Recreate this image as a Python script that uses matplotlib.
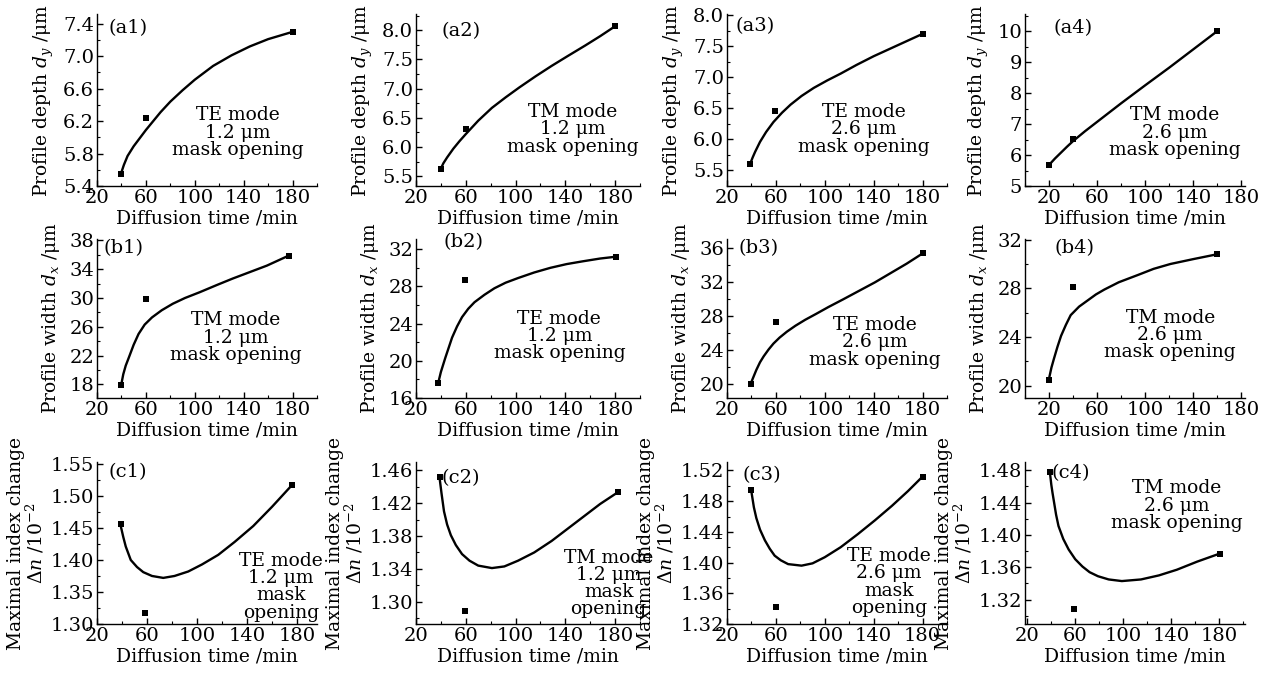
import matplotlib
matplotlib.use("Agg")
import matplotlib.pyplot as plt
from matplotlib.ticker import AutoMinorLocator, FormatStrFormatter, FixedLocator

plt.rcParams['font.family'] = ['DejaVu Serif']
plt.rcParams['mathtext.fontset'] = 'dejavuserif'

# ---------------- data ----------------
# measured points
t_a1 = [40, 60, 180];  v_a1 = [5.55, 6.24, 7.30]
t_a2 = [40, 60, 180];  v_a2 = [5.63, 6.30, 8.07]
t_a3 = [39, 59, 180];  v_a3 = [5.61, 6.45, 7.70]
t_a4 = [20, 40, 160];  v_a4 = [5.68, 6.51, 10.0]
t_b1 = [40, 60, 177];  v_b1 = [17.9, 29.9, 35.9]
t_b2 = [38, 59, 181];  v_b2 = [17.6, 28.7, 31.2]
t_b3 = [40, 60, 180];  v_b3 = [20.0, 27.2, 35.3]
t_b4 = [20, 40, 160];  v_b4 = [20.5, 28.15, 30.8]
t_c1 = [39, 58, 176];  v_c1 = [1.456, 1.317, 1.517]
t_c2 = [39, 59, 182];  v_c2 = [1.452, 1.289, 1.433]
t_c3 = [40, 60, 180];  v_c3 = [1.494, 1.342, 1.512]
t_c4 = [39, 59, 181];  v_c4 = [1.4775, 1.309, 1.377]

# fitted curves
ct_a1 = [40, 42, 45, 50, 55, 60, 66, 72, 80, 90, 100, 115, 130, 145, 160, 180]
cv_a1 = [5.57, 5.66, 5.77, 5.89, 5.99, 6.09, 6.20, 6.31, 6.44, 6.58, 6.71, 6.88, 7.01, 7.12, 7.21, 7.30]
ct_a2 = [40, 42, 45, 50, 55, 60, 70, 81, 92, 103, 116, 129, 142, 156, 168, 180]
cv_a2 = [5.63, 5.72, 5.82, 5.97, 6.10, 6.22, 6.45, 6.67, 6.85, 7.02, 7.21, 7.39, 7.56, 7.74, 7.90, 8.07]
ct_a3 = [39, 41, 43, 47, 52, 58, 65, 72, 81, 91, 102, 113, 126, 140, 160, 180]
cv_a3 = [5.61, 5.71, 5.80, 5.96, 6.12, 6.28, 6.43, 6.56, 6.70, 6.83, 6.95, 7.06, 7.20, 7.34, 7.52, 7.70]
ct_a4 = [20, 25, 30, 35, 40, 50, 60, 80, 100, 120, 140, 160]
cv_a4 = [5.68, 5.89, 6.08, 6.27, 6.45, 6.77, 7.07, 7.67, 8.25, 8.82, 9.41, 10.0]
ct_b1 = [40, 41.5, 43.5, 46, 50, 54, 59, 65, 73, 82, 92, 104, 118, 131, 145, 159, 177]
cv_b1 = [18.1, 19.4, 20.6, 21.7, 23.5, 25.0, 26.3, 27.3, 28.3, 29.2, 30.0, 30.8, 31.8, 32.7, 33.6, 34.5, 35.9]
ct_b2 = [38, 40, 43.5, 49, 53, 57, 62, 67, 75, 83, 92, 102, 115, 128, 141, 154, 168, 181]
cv_b2 = [17.7, 18.8, 20.3, 22.5, 23.7, 24.7, 25.6, 26.3, 27.1, 27.8, 28.4, 28.9, 29.5, 30.0, 30.4, 30.7, 31.0, 31.2]
ct_b3 = [40, 42, 44, 47, 50, 54, 58, 63, 69, 76, 84, 93, 103, 115, 128, 141, 154, 167, 180]
cv_b3 = [20.2, 20.9, 21.6, 22.5, 23.2, 24.0, 24.7, 25.4, 26.1, 26.8, 27.5, 28.2, 29.0, 29.9, 30.9, 31.9, 33.0, 34.1, 35.3]
ct_b4 = [20, 22, 24, 27, 30, 34, 38, 45, 52, 59, 66, 78, 94, 107, 121, 140, 160]
cv_b4 = [20.6, 21.5, 22.2, 23.2, 24.1, 25.0, 25.8, 26.5, 27.0, 27.5, 27.9, 28.5, 29.1, 29.6, 30.0, 30.4, 30.8]
ct_c1 = [39, 41, 43, 47, 52, 57, 64, 73, 82, 93, 104, 117, 130, 145, 160, 176]
cv_c1 = [1.453, 1.436, 1.421, 1.400, 1.389, 1.381, 1.375, 1.372, 1.375, 1.382, 1.393, 1.408, 1.428, 1.453, 1.483, 1.517]
ct_c2 = [39, 40.5, 42.5, 45, 48, 52, 57, 63, 70, 81, 91, 102, 115, 129, 142, 155, 168, 182]
cv_c2 = [1.450, 1.432, 1.410, 1.394, 1.381, 1.369, 1.358, 1.350, 1.344, 1.341, 1.343, 1.350, 1.360, 1.374, 1.389, 1.404, 1.419, 1.433]
ct_c3 = [40, 42, 44, 47, 51, 55, 59, 64, 70, 81, 90, 100, 113, 127, 141, 155, 168, 180]
cv_c3 = [1.492, 1.472, 1.458, 1.443, 1.429, 1.418, 1.409, 1.403, 1.398, 1.396, 1.399, 1.407, 1.420, 1.437, 1.455, 1.474, 1.493, 1.512]
ct_c4 = [39, 40, 41, 42, 44, 46, 50, 54.5, 60, 66, 72, 79, 88, 99, 115, 130, 145, 162, 181]
cv_c4 = [1.475, 1.462, 1.452, 1.443, 1.425, 1.411, 1.395, 1.382, 1.370, 1.361, 1.354, 1.349, 1.345, 1.343, 1.345, 1.350, 1.357, 1.367, 1.377]

labels_panel = ['(a1)', '(a2)', '(a3)', '(a4)', '(b1)', '(b2)', '(b3)', '(b4)',
                '(c1)', '(c2)', '(c3)', '(c4)']
notes = ['TE mode\n1.2 μm\nmask opening', 'TM mode\n1.2 μm\nmask opening',
         'TE mode\n2.6 μm\nmask opening', 'TM mode\n2.6 μm\nmask opening',
         'TM mode\n1.2 μm\nmask opening', 'TE mode\n1.2 μm\nmask opening',
         'TE mode\n2.6 μm\nmask opening', 'TM mode\n2.6 μm\nmask opening',
         'TE mode\n1.2 μm\nmask\nopening', 'TM mode\n1.2 μm\nmask\nopening',
         'TE mode\n2.6 μm\nmask\nopening', 'TM mode\n2.6 μm\nmask opening']
x_ticks = [20, 60, 100, 140, 180]
y_label_a = r'Profile depth $d_y$ /μm'
y_label_b = r'Profile width $d_x$ /μm'
y_label_c = 'Maximal index change\n' + r'$\mathit{\Delta n}$ /10$^{-2}$'
x_label = 'Diffusion time /min'

pts_t = [t_a1, t_a2, t_a3, t_a4, t_b1, t_b2, t_b3, t_b4, t_c1, t_c2, t_c3, t_c4]
pts_v = [v_a1, v_a2, v_a3, v_a4, v_b1, v_b2, v_b3, v_b4, v_c1, v_c2, v_c3, v_c4]
cur_t = [ct_a1, ct_a2, ct_a3, ct_a4, ct_b1, ct_b2, ct_b3, ct_b4, ct_c1, ct_c2, ct_c3, ct_c4]
cur_v = [cv_a1, cv_a2, cv_a3, cv_a4, cv_b1, cv_b2, cv_b3, cv_b4, cv_c1, cv_c2, cv_c3, cv_c4]

# ---------------- layout / styling ----------------
W, H = 1274, 675
fig = plt.figure(figsize=(W / 100, H / 100), dpi=100)

col_left = [97, 416, 727, 1025]
col_w = [220, 224, 220, 220]
row_top = [14, 239, 462]
row_bot = [186, 398, 624]

xlims = [(20, 200), (20, 200), (20, 200), (0, 183),
         (20, 200), (20, 200), (20, 200), (0, 183),
         (20, 196), (20, 200), (20, 200), (18, 202)]
ylims = [(5.4, 7.52), (5.33, 8.28), (5.25, 8.02), (5.0, 10.55),
         (16.1, 38.2), (16.0, 33.1), (18.3, 37.0), (19.0, 32.05),
         (1.30, 1.553), (1.273, 1.47), (1.32, 1.531), (1.29, 1.49)]
yticks = [[5.4, 5.8, 6.2, 6.6, 7.0, 7.4], [5.5, 6.0, 6.5, 7.0, 7.5, 8.0],
          [5.5, 6.0, 6.5, 7.0, 7.5, 8.0], [5, 6, 7, 8, 9, 10],
          [18, 22, 26, 30, 34, 38], [16, 20, 24, 28, 32], [20, 24, 28, 32, 36], [20, 24, 28, 32],
          [1.30, 1.35, 1.40, 1.45, 1.50, 1.55], [1.30, 1.34, 1.38, 1.42, 1.46],
          [1.32, 1.36, 1.40, 1.44, 1.48, 1.52], [1.32, 1.36, 1.40, 1.44, 1.48]]
yfmt = ['%.1f'] * 3 + ['%d'] + ['%d'] * 4 + ['%.2f'] * 4
tag_pos = [(0.14, 0.92), (0.20, 0.90), (0.13, 0.93), (0.22, 0.92),
           (0.12, 0.94), (0.21, 0.98), (0.145, 0.94), (0.225, 0.945),
           (0.14, 0.94), (0.20, 0.90), (0.16, 0.92), (0.21, 0.93)]
note_pos = [(0.64, 0.31), (0.70, 0.33), (0.62, 0.33), (0.68, 0.31),
            (0.63, 0.38), (0.64, 0.39), (0.67, 0.35), (0.66, 0.395),
            (0.835, 0.23), (0.86, 0.25), (0.735, 0.26), (0.69, 0.73)]

TFS = 14     # tick labels
LFS = 13.5   # axis labels
NFS = 13.5   # notes
for i in range(12):
    r, c = divmod(i, 4)
    left = col_left[c] / W
    bottom = 1 - row_bot[r] / H
    width = col_w[c] / W
    height = (row_bot[r] - row_top[r]) / H
    ax = fig.add_axes([left, bottom, width, height])
    ax.plot(cur_t[i], cur_v[i], color='black', lw=1.7, solid_joinstyle='round')
    ax.plot(pts_t[i], pts_v[i], 's', color='black', ms=4.2, mew=0)
    ax.set_xlim(*xlims[i])
    ax.set_ylim(*ylims[i])
    ax.xaxis.set_major_locator(FixedLocator(x_ticks))
    ax.xaxis.set_minor_locator(AutoMinorLocator(2))
    ax.yaxis.set_major_locator(FixedLocator(yticks[i]))
    ax.yaxis.set_minor_locator(AutoMinorLocator(2))
    ax.yaxis.set_major_formatter(FormatStrFormatter(yfmt[i]))
    for s in ['top', 'right']:
        ax.spines[s].set_visible(False)
    for s in ['left', 'bottom']:
        ax.spines[s].set_linewidth(1.0)
    ax.tick_params(which='major', direction='in', length=4, width=1.0,
                   labelsize=TFS, pad=2)
    ax.tick_params(which='minor', direction='in', length=2.5, width=0.8)
    ax.set_xlabel(x_label, fontsize=LFS, labelpad=2)
    if r == 0:
        ax.set_ylabel(y_label_a, fontsize=LFS, labelpad=5)
    elif r == 1:
        ax.set_ylabel(y_label_b, fontsize=LFS, labelpad=5)
    else:
        ax.set_ylabel(y_label_c, fontsize=LFS, labelpad=3, linespacing=0.95)
    ax.text(tag_pos[i][0], tag_pos[i][1], labels_panel[i], transform=ax.transAxes,
            ha='center', va='center', fontsize=TFS)
    ax.text(note_pos[i][0], note_pos[i][1], notes[i], transform=ax.transAxes,
            ha='center', va='center', fontsize=NFS, linespacing=0.95)

fig.savefig('out.png', dpi=100)
